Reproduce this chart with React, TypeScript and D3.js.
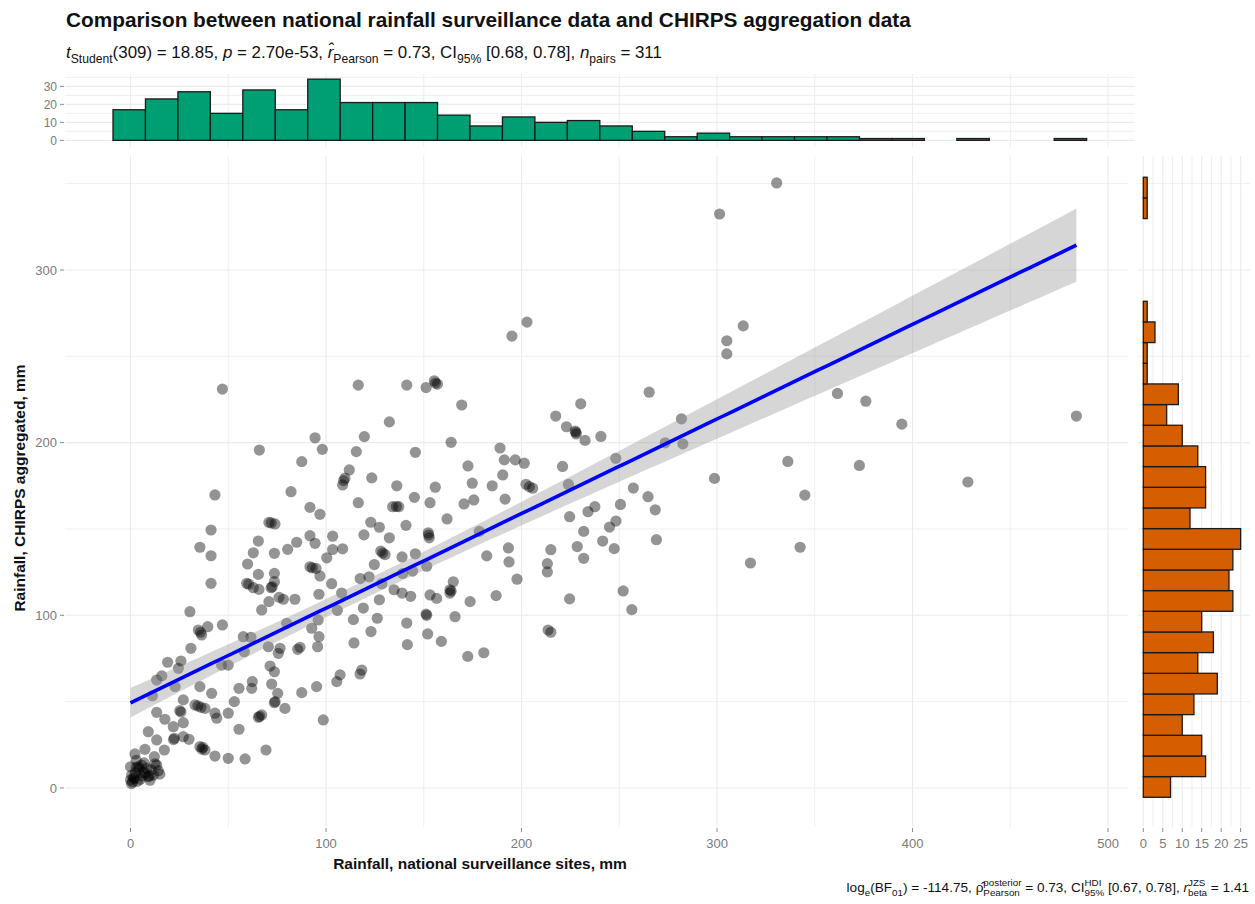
import React, { useEffect, useRef } from "react";
import * as d3 from "d3";

// [national surveillance rainfall (mm), CHIRPS aggregated rainfall (mm)]
const rainfallPairs: [number, number][] = [
  [330.5, 350.4], [301.3, 332.4], [313.4, 267.6], [305, 259], [305, 251.4], [265.3, 229.2], [230.3, 222.5],
  [217.5, 215.4], [223, 209.2], [227.4, 206.7], [228, 205], [232.5, 201.3], [240.6, 203.6], [281.8, 213.8],
  [273.5, 199.9], [282.5, 199.3], [361.6, 228.5], [376.1, 224], [394.5, 210.7], [483.8, 215.4], [221, 186.2],
  [248.2, 190.9], [224, 175.8], [298.7, 179.3], [336.2, 189.1], [372.8, 186.8], [428.3, 177.2], [257.2, 173.7],
  [264.7, 168.7], [268.4, 161.1], [250.6, 164.2], [237.5, 162.9], [234, 160], [224.6, 157.1], [248.3, 154.6],
  [245, 151.1], [231.8, 148.6], [344.9, 169.6], [215, 138], [213.2, 129.9], [213.2, 125.1], [228.5, 139.8],
  [241.5, 143], [247.4, 138.6], [231.8, 133], [269, 143.8], [342.5, 139.4], [317.1, 130.3], [224.6, 109.5],
  [252, 114.1], [256.4, 103.3], [215, 90.2], [195.1, 261.7], [202.8, 269.8],
  [116.5, 233.3], [141.3, 233.3], [151.2, 231.9], [155.4, 235.8], [157, 233.9], [169.4, 221.8], [132.4, 212],
  [119.6, 203.5], [115.5, 194.8], [145.7, 194.4], [164, 200.2], [189, 196.9], [191.2, 190], [196.8, 190],
  [201.4, 188.1], [172.6, 186.5], [111.9, 184.2], [109.7, 179.4], [108.5, 175.5], [123.4, 179.6], [174.8, 176.5],
  [185, 175], [190.4, 181.3], [202.3, 175.9], [205.7, 173.6], [136.2, 175], [155.9, 174.2], [116.5, 165.2],
  [134.1, 162.9], [137.2, 162.9], [145.2, 168.3], [153.2, 165.2], [170.6, 164.5], [175.6, 166.8], [191.6, 167.3],
  [161.9, 155.8], [122.9, 153.9], [127.3, 151], [140.9, 152.1], [119.4, 146.6], [132.4, 144.9], [152.3, 147.8],
  [152.8, 144.9], [103.4, 145.8], [103.4, 138.1], [108.5, 138.5], [100.4, 133.3], [128, 137.2], [130.2, 135.2],
  [138.9, 133.8], [145.7, 135.6], [151.5, 128.4], [124.7, 129.4], [117.5, 121.3], [122, 122.3], [139.2, 124.2],
  [144.3, 125.6], [128.5, 118.3], [96.9, 122.8], [102.9, 118.3], [108, 112.9], [105.8, 102.9], [134.8, 114.8],
  [138.9, 112.9], [143.3, 111], [127.3, 109], [119.1, 104.2], [153.2, 111.8], [156.6, 109.8], [163.4, 114.8],
  [165.1, 119.4], [163.4, 112.9], [151.2, 100.7], [166, 99.2], [173.7, 107.9], [187, 111.4], [182.2, 134.4],
  [193.3, 139], [193.6, 130.9], [197.7, 120.9], [178.4, 148.6], [114, 97.5], [126.2, 98.3], [123, 90.6],
  [114.3, 84], [141.3, 95.5], [152, 89.2], [141.6, 83], [159, 84.9], [172.5, 76.2], [180.7, 78.3], [118.3, 68.3],
  [117.4, 66], [107.2, 65.5], [105.5, 61.6], [213.6, 91.5],
  [47, 231], [94.4, 202.8], [98.1, 196.1], [65.9, 195.7], [87.6, 189], [43.2, 169.7], [82.1, 171.6], [91.8, 162.5],
  [96.9, 158.5], [70.8, 153.8], [73.9, 152.9], [41.2, 149.4], [65.4, 143], [85, 142.3], [80.4, 138.2], [91.8, 146.1],
  [94.4, 141.7], [35.5, 139.4], [41.2, 134.5], [62.8, 136.2], [73.6, 135.9], [59.9, 129.7], [65.4, 123.7],
  [73.6, 124.3], [91.8, 128.1], [94.9, 127.2], [41.2, 118.5], [59.4, 118.5], [62.8, 116], [65.7, 115], [71.9, 116],
  [73.6, 119.5], [96.4, 112.2], [76, 110.4], [78.2, 109.3], [84.1, 109.3], [70.8, 107.9], [67.1, 103.1],
  [30.4, 102.1], [47, 94.4], [39.5, 93.4], [34.7, 91.5], [36.4, 88.6], [30.9, 80.9], [19, 72.8], [25.8, 73.5],
  [24.5, 69.3], [16, 64.9], [13.4, 62.5], [22.8, 58.7], [11.2, 53.4], [27, 51], [35.5, 58.7], [41.5, 54.8],
  [33, 48.1], [36.1, 46.7], [38.1, 46.1], [25.2, 44.8], [13.4, 43.8], [17.6, 39.8], [21.9, 35.5], [27, 37.8],
  [9.1, 32.6], [13.4, 27.8], [22.4, 28.8], [27, 29.7], [29.9, 28.2], [7.4, 22.4], [2.3, 19.7], [17.3, 22],
  [12.2, 18.1], [35.5, 23.9], [38.1, 22], [43.2, 18.5], [50, 17.2], [58.6, 16.8], [69.3, 22], [44.1, 40.4],
  [43.2, 43.3], [50, 43.3], [55.5, 34], [65.4, 40.9], [67.1, 42.3], [53.1, 50], [55.5, 57.7], [62, 57.7],
  [62.3, 61.6], [72.2, 60.2], [75.3, 54.8], [73.6, 49.4], [79, 46.1], [87.6, 55.2], [95.2, 58.7], [46.6, 71.2],
  [50, 71.2], [71.4, 70.6], [75.6, 78], [76.5, 80.9], [70.5, 81.8], [73.6, 67.3], [86.7, 81.5], [85.5, 80.3],
  [79.9, 95.4], [61.6, 87.3], [57.7, 87.6], [58.2, 78.9], [96, 97.3], [92.7, 92.5], [96.4, 87.6], [95.7, 81.8],
  [98.6, 39.4],
  [0, 4.6], [0.6, 7.5], [4, 12.3], [5.7, 13.3], [9.1, 6.5], [11.7, 7.5], [13.4, 13.3], [14.2, 10], [0, 12.3],
  [8.3, 11.4], [1, 3.5], [2, 5.5], [6.5, 9], [10, 4.5], [3, 16], [7, 14.5], [15, 8],
  [36.5, 22.5], [37, 23.5], [35.8, 90.2], [25.8, 44], [34.5, 47.5], [3, 12], [4.5, 11], [22, 28], [12.5, 14],
  [9.5, 7], [72.5, 116.5], [60.5, 118], [72, 153.5], [74, 50], [66, 41.5], [93, 127.5], [109, 178], [129, 136],
  [152.5, 146.5], [151.5, 100], [164, 114], [156, 234.5], [204, 174.5], [136, 163], [227.8, 206],
  [1.5, 6], [2.5, 9], [5, 5], [7.5, 8.5], [0.5, 2.5], [3.5, 3.8], [6, 7], [10.5, 10.5],
];

// marginal histogram counts (30 bins each)
const nationalHistCounts = [17, 23, 27, 15, 28, 17, 34, 21, 21, 21, 14, 8, 13, 10, 11, 8, 5, 2, 4, 2, 2, 2, 2, 1, 1, 0, 1, 0, 0, 1];
const nationalBinStart = -8.95;
const nationalBinWidth = 16.6;
const chirpsHistCounts = [7, 16, 15, 10, 13, 19, 14, 18, 15, 23, 22, 23, 25, 12, 16, 16, 14, 10, 6, 9, 1, 1, 3, 1, 0, 0, 0, 0, 1, 1];
const chirpsBinStart = -5.4;
const chirpsBinWidth = 11.97;

const xTicks = [0, 100, 200, 300, 400, 500];
const xGrid = [0, 50, 100, 150, 200, 250, 300, 350, 400, 450, 500];
const yTicks = [0, 100, 200, 300];
const yGrid = [0, 50, 100, 150, 200, 250, 300, 350];
const topCountTicks = [0, 10, 20, 30];
const topCountGrid = [0, 5, 10, 15, 20, 25, 30, 35];
const sideCountTicks = [0, 5, 10, 15, 20, 25];
const sideCountGrid = [0, 2.5, 5, 7.5, 10, 12.5, 15, 17.5, 20, 22.5, 25];

const FONT = "'Liberation Sans', Arial, Helvetica, sans-serif";
const LABEL = "#7a7a7a";
const GRID = "#ebebeb";

type Part = { t?: string; it?: boolean; sub?: string; sup?: string };

function richText(parent: any, parts: Part[], fs: number, fill: string) {
  const text = parent.append("text").attr("font-family", FONT).attr("font-size", fs).attr("fill", fill);
  let cur = 0;
  let pendDx = 0;
  const add = (s: string, size: number, shift: number, italic?: boolean) => {
    const ts = text.append("tspan").text(s).attr("font-size", size).attr("dy", shift - cur);
    if (pendDx) ts.attr("dx", pendDx);
    pendDx = 0;
    if (italic) ts.attr("font-style", "italic");
    cur = shift;
    return (ts.node() as SVGTSpanElement).getComputedTextLength();
  };
  for (const p of parts) {
    if (p.t) add(p.t, fs, 0, p.it);
    if (p.sup && p.sub) {
      const w1 = add(p.sup, fs * 0.72, -fs * 0.42);
      pendDx = -w1;
      const w2 = add(p.sub, fs * 0.72, fs * 0.3);
      pendDx = Math.max(0, w1 - w2);
    } else if (p.sub) {
      add(p.sub, fs * 0.72, fs * 0.3);
    } else if (p.sup) {
      add(p.sup, fs * 0.72, -fs * 0.42);
    }
  }
  return text;
}

export default function App() {
  const ref = useRef<SVGSVGElement | null>(null);

  useEffect(() => {
    const svg = d3.select(ref.current);
    svg.selectAll("*").remove();

    const x = d3.scaleLinear().domain([-33.5, 510.2]).range([65, 1128]);
    const y = d3.scaleLinear().domain([-22.6, 366]).range([827, 156]);
    const topY = d3.scaleLinear().domain([-1.75, 36.75]).range([143.5, 74.2]);
    const sideX = d3.scaleLinear().domain([-1.36, 27.4]).range([1138, 1250]);

    svg.append("rect").attr("width", 1255).attr("height", 904).attr("fill", "#fff");

    // ---------- grids ----------
    const g = svg.append("g");
    xGrid.forEach((v) =>
      g.append("line").attr("x1", x(v)).attr("x2", x(v)).attr("y1", 156).attr("y2", 827)
        .attr("stroke", GRID).attr("stroke-width", v % 100 === 0 ? 1.1 : 0.8)
    );
    yGrid.forEach((v) =>
      g.append("line").attr("x1", 65).attr("x2", 1128).attr("y1", y(v)).attr("y2", y(v))
        .attr("stroke", GRID).attr("stroke-width", v % 100 === 0 ? 1.1 : 0.8)
    );
    xGrid.forEach((v) =>
      g.append("line").attr("x1", x(v)).attr("x2", x(v)).attr("y1", 74).attr("y2", 147)
        .attr("stroke", GRID).attr("stroke-width", 0.9)
    );
    topCountGrid.forEach((v) =>
      g.append("line").attr("x1", 65).attr("x2", 1135).attr("y1", topY(v)).attr("y2", topY(v))
        .attr("stroke", GRID).attr("stroke-width", v % 10 === 0 ? 1.1 : 0.8)
    );
    sideCountGrid.forEach((v) =>
      g.append("line").attr("x1", sideX(v)).attr("x2", sideX(v)).attr("y1", 156).attr("y2", 827)
        .attr("stroke", GRID).attr("stroke-width", v % 5 === 0 ? 1.1 : 0.8)
    );
    yGrid.forEach((v) =>
      g.append("line").attr("x1", 1138).attr("x2", 1250).attr("y1", y(v)).attr("y2", y(v))
        .attr("stroke", GRID).attr("stroke-width", v % 100 === 0 ? 1.1 : 0.8)
    );

    // ---------- regression ----------
    const n = rainfallPairs.length;
    const mx = d3.mean(rainfallPairs, (d) => d[0]) as number;
    const my = d3.mean(rainfallPairs, (d) => d[1]) as number;
    let sxx = 0, sxy = 0;
    rainfallPairs.forEach(([a, b]) => { sxx += (a - mx) ** 2; sxy += (a - mx) * (b - my); });
    const slope = sxy / sxx;
    const intercept = my - slope * mx;
    let sse = 0;
    rainfallPairs.forEach(([a, b]) => { sse += (b - intercept - slope * a) ** 2; });
    const s = Math.sqrt(sse / (n - 2));
    const tcrit = 1.9677;
    const [xmin, xmax] = d3.extent(rainfallPairs, (d) => d[0]) as [number, number];
    const xs = d3.range(0, 81).map((i) => xmin + ((xmax - xmin) * i) / 80);
    const band = xs.map((v) => {
      const fit = intercept + slope * v;
      const se = s * Math.sqrt(1 / n + (v - mx) ** 2 / sxx);
      return { v, fit, lo: fit - tcrit * se, hi: fit + tcrit * se };
    });

    // ---------- points ----------
    svg.append("g").selectAll("circle").data(rainfallPairs).join("circle")
      .attr("cx", (d) => x(d[0])).attr("cy", (d) => y(d[1])).attr("r", 5.6)
      .attr("fill", "#000").attr("fill-opacity", 0.42);

    svg.append("path").datum(band)
      .attr("d", d3.area<any>().x((d) => x(d.v)).y0((d) => y(d.lo)).y1((d) => y(d.hi)))
      .attr("fill", "#999999").attr("fill-opacity", 0.4);
    svg.append("path").datum(band)
      .attr("d", d3.line<any>().x((d) => x(d.v)).y((d) => y(d.fit)))
      .attr("fill", "none").attr("stroke", "#0000ff").attr("stroke-width", 3.6);

    // ---------- top histogram ----------
    svg.append("g").selectAll("rect").data(nationalHistCounts).join("rect")
      .attr("x", (_, i) => x(nationalBinStart + i * nationalBinWidth))
      .attr("width", x(nationalBinWidth) - x(0))
      .attr("y", (c) => topY(c))
      .attr("height", (c) => topY(0) - topY(c))
      .attr("fill", "#009E73").attr("stroke", "#1a1a1a").attr("stroke-width", 1.3);

    // ---------- side histogram ----------
    svg.append("g").selectAll("rect").data(chirpsHistCounts).join("rect")
      .attr("x", sideX(0))
      .attr("width", (c) => sideX(c) - sideX(0))
      .attr("y", (_, i) => y(chirpsBinStart + (i + 1) * chirpsBinWidth))
      .attr("height", y(0) - y(chirpsBinWidth))
      .attr("fill", "#D55E00").attr("stroke", "#1a1a1a").attr("stroke-width", 1.3);

    // ---------- axes ----------
    const ax = svg.append("g").attr("font-family", FONT);
    xTicks.forEach((v) => {
      ax.append("line").attr("x1", x(v)).attr("x2", x(v)).attr("y1", 828).attr("y2", 832).attr("stroke", "#8a8a8a");
      ax.append("text").attr("x", x(v)).attr("y", 848).attr("text-anchor", "middle")
        .attr("font-size", 13).attr("fill", LABEL).text(v);
    });
    yTicks.forEach((v) => {
      ax.append("line").attr("x1", 60).attr("x2", 64).attr("y1", y(v)).attr("y2", y(v)).attr("stroke", "#8a8a8a");
      ax.append("text").attr("x", 57).attr("y", y(v)).attr("dy", "0.35em").attr("text-anchor", "end")
        .attr("font-size", 13).attr("fill", LABEL).text(v);
    });
    topCountTicks.forEach((v) => {
      ax.append("line").attr("x1", 60).attr("x2", 64).attr("y1", topY(v)).attr("y2", topY(v)).attr("stroke", "#8a8a8a");
      ax.append("text").attr("x", 57).attr("y", topY(v)).attr("dy", "0.35em").attr("text-anchor", "end")
        .attr("font-size", 12).attr("fill", LABEL).text(v);
    });
    sideCountTicks.forEach((v) => {
      ax.append("line").attr("x1", sideX(v)).attr("x2", sideX(v)).attr("y1", 828).attr("y2", 832).attr("stroke", "#8a8a8a");
      ax.append("text").attr("x", sideX(v)).attr("y", 848).attr("text-anchor", "middle")
        .attr("font-size", 13).attr("fill", LABEL).text(v);
    });

    ax.append("text").attr("x", 480).attr("y", 869).attr("text-anchor", "middle")
      .attr("font-size", 15.5).attr("font-weight", "bold").attr("fill", "#111")
      .text("Rainfall, national surveillance sites, mm");
    ax.append("text").attr("transform", "translate(25,488) rotate(-90)").attr("text-anchor", "middle")
      .attr("font-size", 15.5).attr("font-weight", "bold").attr("fill", "#111")
      .text("Rainfall, CHIRPS aggregated, mm");

    // ---------- title / subtitle / caption ----------
    svg.append("text").attr("x", 66).attr("y", 27).attr("font-family", FONT).attr("font-size", 20.8)
      .attr("font-weight", "bold").attr("fill", "#111")
      .text("Comparison between national rainfall surveillance data and CHIRPS aggregation data");

    const sub = richText(svg, [
      { t: "t", it: true, sub: "Student" },
      { t: "(309) = 18.85, " },
      { t: "p", it: true },
      { t: " = 2.70e-53, " },
      { t: "r\u0302", it: true, sub: "Pearson" },
      { t: " = 0.73, CI", sub: "95%" },
      { t: " [0.68, 0.78], " },
      { t: "n", it: true, sub: "pairs" },
      { t: " = 311" },
    ], 16.9, "#111");
    sub.attr("x", 66).attr("y", 58);

    const cap = richText(svg, [
      { t: "log", sub: "e" },
      { t: "(BF", sub: "01" },
      { t: ") = -114.75, " },
      { t: "\u03C1\u0302", sup: "posterior", sub: "Pearson" },
      { t: " = 0.73, CI", sup: "HDI", sub: "95%" },
      { t: " [0.67, 0.78], " },
      { t: "r", it: true, sup: "JZS", sub: "beta" },
      { t: " = 1.41" },
    ], 13.6, "#111");
    cap.attr("x", 0).attr("y", 0);
    const bb = (cap.node() as SVGTextElement).getBBox();
    cap.attr("transform", `translate(${1249 - (bb.x + bb.width)},892)`);
  }, []);

  return (
    <svg
      ref={ref}
      width={1255}
      height={904}
      style={{ position: "absolute", left: 0, top: 0, display: "block" }}
    />
  );
}
